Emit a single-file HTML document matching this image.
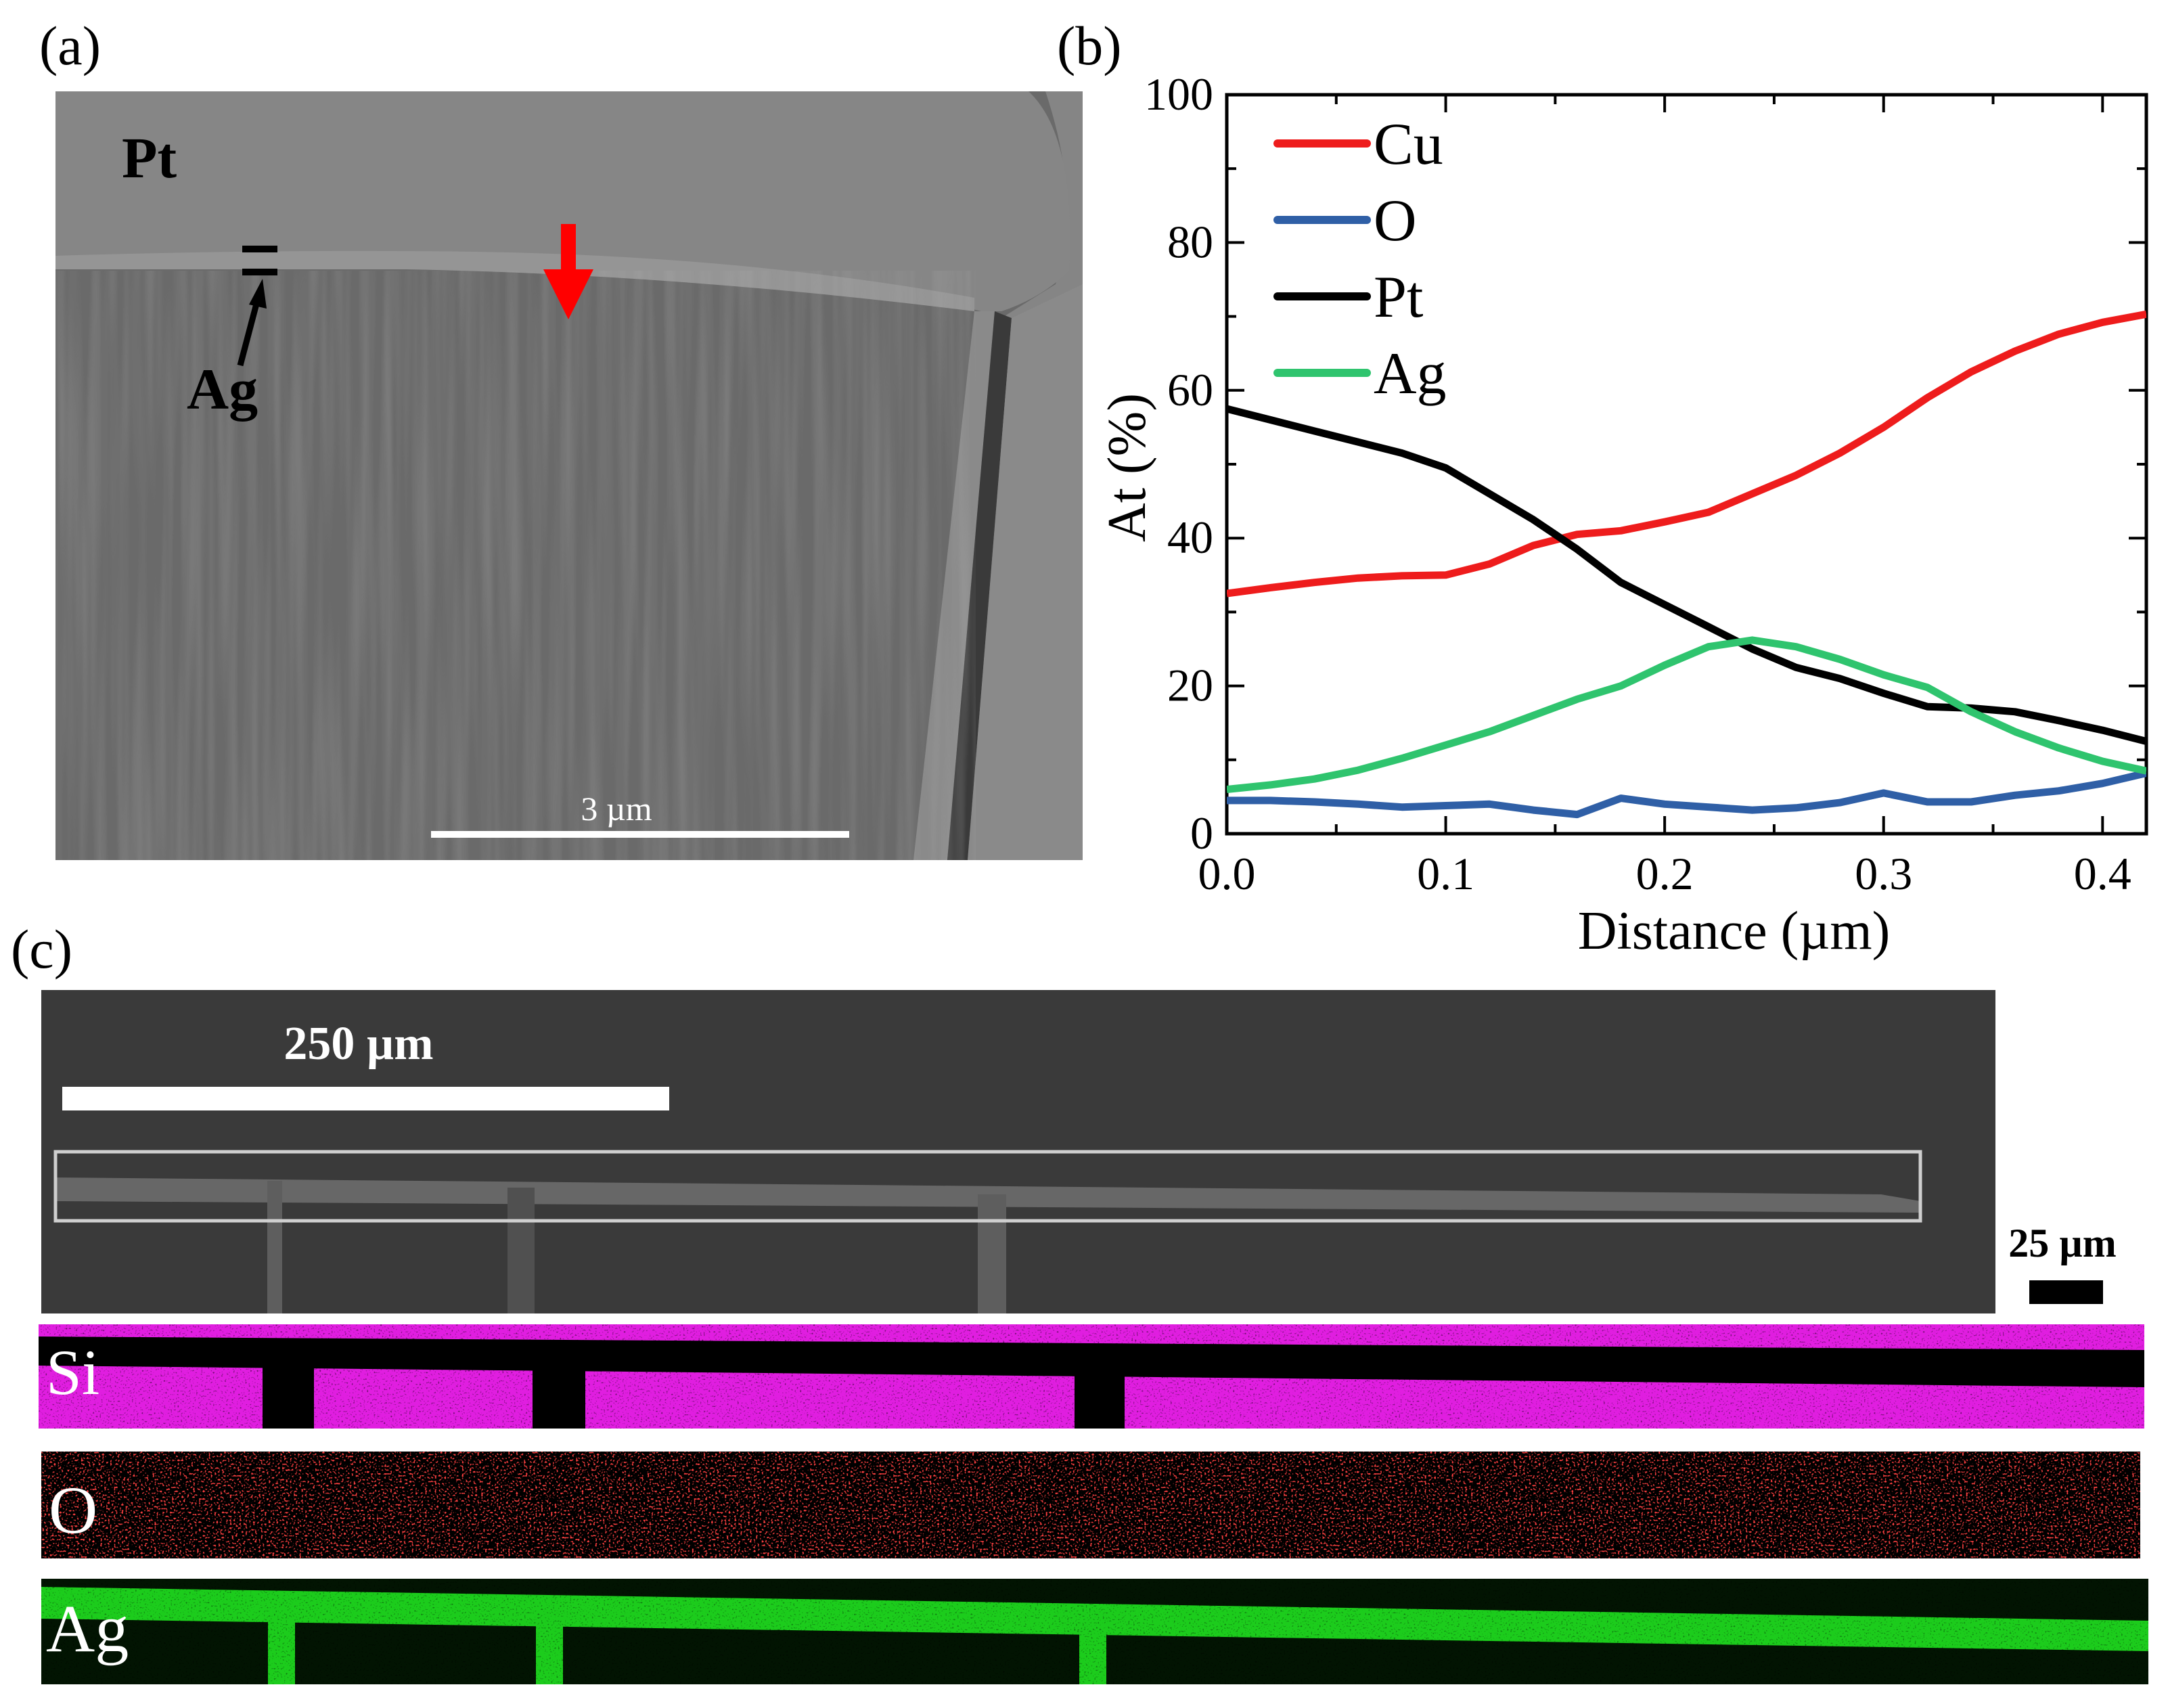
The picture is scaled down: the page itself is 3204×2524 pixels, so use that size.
<!DOCTYPE html>
<html><head><meta charset="utf-8"><style>
html,body{margin:0;padding:0;background:#fff;}
svg{display:block;}
text{font-family:"Liberation Serif",serif;}
</style></head><body>
<svg id="fig" width="3204" height="2524" viewBox="0 0 3204 2524" xmlns="http://www.w3.org/2000/svg">
<defs>
<filter id="noise" x="0" y="0" width="100%" height="100%"><feTurbulence type="fractalNoise" baseFrequency="0.9" numOctaves="1" seed="3"/><feColorMatrix type="matrix" values="0 0 0 0 0.5  0 0 0 0 0.5  0 0 0 0 0.5  0 0 0 1.2 -0.3"/></filter>
<filter id="streak" x="0" y="0" width="100%" height="100%"><feTurbulence type="fractalNoise" baseFrequency="0.06 0.002" numOctaves="2" seed="7"/><feColorMatrix type="matrix" values="0 0 0 0 0.45  0 0 0 0 0.45  0 0 0 0 0.45  0 0 0 0.9 -0.3"/></filter>
<filter id="redspeck" x="0" y="0" width="100%" height="100%"><feTurbulence type="fractalNoise" baseFrequency="0.35" numOctaves="1" seed="11"/><feColorMatrix type="matrix" values="0 0 0 0 0.95  0 0 0 0 0.05  0 0 0 0 0.05  7 0 0 0 -3.9"/></filter>
<filter id="darkspeck" x="0" y="0" width="100%" height="100%"><feTurbulence type="fractalNoise" baseFrequency="0.4" numOctaves="1" seed="5"/><feColorMatrix type="matrix" values="0 0 0 0 0  0 0 0 0 0  0 0 0 0 0  6 0 0 0 -3.6"/></filter>
<clipPath id="clipA"><rect x="82" y="135" width="1518" height="1136"/></clipPath>
<clipPath id="clipPlot"><rect x="1813" y="140" width="1359" height="1092"/></clipPath>
</defs>

<!-- Panel a -->
<text x="58" y="95" font-size="82">(a)</text>
<g clip-path="url(#clipA)">
  <rect x="82" y="135" width="1518" height="1136" fill="#6a6a6a"/>
  <path d="M82 135 H1545 Q1600 300 1560 420 L1480 470 L1470 1271 H1600 V135 Z" fill="#858585"/>
  <path d="M82 135 H1520 Q1590 200 1580 400 Q1540 440 1480 460 L1450 460 Q1300 420 1000 400 L82 395 Z" fill="#868686"/>
  <path d="M82 378 Q400 368 700 372 Q1100 378 1440 440 L1440 460 Q1000 405 600 398 L82 398 Z" fill="#959595"/>
  <path d="M1440 460 L1470 460 L1400 1271 L1350 1271 Z" fill="#8a8a8a"/>
  <path d="M1470 460 L1495 470 L1430 1271 L1400 1271 Z" fill="#3a3a3a"/>
  <path d="M1495 470 L1600 420 V1271 H1430 Z" fill="#8a8a8a"/>
  <rect x="82" y="400" width="1360" height="871" filter="url(#streak)" opacity="0.5"/>
</g>
<text x="180" y="262" font-size="86" font-weight="bold">Pt</text>
<rect x="358" y="363" width="52" height="10" fill="#000"/>
<rect x="358" y="397" width="52" height="10" fill="#000"/>
<line x1="355" y1="540" x2="384" y2="430" stroke="#000" stroke-width="9"/>
<polygon points="388,412 368,450 394,456" fill="#000"/>
<text x="276" y="604" font-size="86" font-weight="bold">Ag</text>
<rect x="829" y="331" width="22" height="70" fill="#f00"/>
<polygon points="803,398 877,398 840,472" fill="#f00"/>
<rect x="637" y="1228" width="618" height="10" fill="#fff"/>
<text x="911" y="1212" font-size="50" fill="#fff" text-anchor="middle">3 µm</text>

<!-- Panel b -->
<text x="1562" y="95" font-size="82">(b)</text>
<g id="chart"></g>

<!-- Panel c -->
<text x="16" y="1430" font-size="82">(c)</text>
<g>
  <rect x="61" y="1463" width="2888" height="478" fill="#3a3a3a"/>
  <polygon points="82,1740 2780,1765 2838,1775 2838,1792 82,1775" fill="#7a7a7a" opacity="0.7"/>
  <rect x="395" y="1745" width="22" height="196" fill="#5e5e5e"/>
  <rect x="750" y="1755" width="40" height="186" fill="#505050"/>
  <rect x="1445" y="1765" width="42" height="176" fill="#5e5e5e"/>
  <rect x="82" y="1702" width="2756" height="102" fill="none" stroke="#cfcfcf" stroke-width="5"/>
  <rect x="92" y="1606" width="897" height="35" fill="#fff"/>
  <text x="530" y="1565" font-size="70" font-weight="bold" fill="#fff" text-anchor="middle">250 µm</text>
</g>
<text x="3048" y="1857" font-size="60" font-weight="bold" text-anchor="middle">25 µm</text>
<rect x="2999" y="1892" width="109" height="35" fill="#000"/>

<g>
  <rect x="57" y="1957" width="3112" height="154" fill="#e01ee0"/>
  <rect x="57" y="1957" width="3112" height="154" filter="url(#darkspeck)" opacity="0.5"/>
  <polygon points="57,1975 3169,1995 3169,2050 57,2018" fill="#000"/>
  <rect x="388" y="2010" width="76" height="101" fill="#000"/>
  <rect x="787" y="2012" width="78" height="99" fill="#000"/>
  <rect x="1588" y="2020" width="74" height="91" fill="#000"/>
</g>
<text x="68" y="2060" font-size="95" fill="#fff">Si</text>
<g>
  <rect x="61" y="2145" width="3102" height="158" fill="#000"/>
  <rect x="61" y="2145" width="3102" height="158" filter="url(#redspeck)"/>
</g>
<text x="72" y="2265" font-size="100" fill="#fff">O</text>
<g>
  <rect x="61" y="2333" width="3114" height="156" fill="#021402"/>
  <polygon points="61,2345 3175,2395 3175,2440 61,2392" fill="#1ccc1c"/>
  <rect x="396" y="2380" width="40" height="109" fill="#1ccc1c"/>
  <rect x="792" y="2380" width="40" height="109" fill="#1ccc1c"/>
  <rect x="1595" y="2395" width="40" height="94" fill="#1ccc1c"/>
  <rect x="61" y="2333" width="3114" height="156" filter="url(#darkspeck)" opacity="0.4"/>
</g>
<text x="68" y="2440" font-size="100" fill="#fff">Ag</text>
</svg>
<script>
const xValues=[0,0.02,0.04,0.06,0.08,0.10,0.12,0.14,0.16,0.18,0.20,0.22,0.24,0.26,0.28,0.30,0.32,0.34,0.36,0.38,0.40,0.42];
const cuValues=[32.5,33.3,34.0,34.6,34.9,35.0,36.5,39.0,40.5,41.0,42.2,43.5,46.0,48.5,51.5,55.0,59.0,62.5,65.3,67.6,69.2,70.3];
const oValues=[4.5,4.5,4.3,4.0,3.6,3.8,4.0,3.2,2.6,4.8,4.0,3.6,3.2,3.5,4.2,5.5,4.3,4.3,5.2,5.8,6.8,8.2];
const ptValues=[57.5,56.0,54.5,53.0,51.5,49.5,46.0,42.5,38.5,34.0,31.0,28.0,25.0,22.5,21.0,19.0,17.2,17.0,16.5,15.3,14.0,12.5];
const agValues=[6.0,6.6,7.4,8.6,10.2,12.0,13.8,16.0,18.2,20.0,22.8,25.3,26.2,25.3,23.6,21.5,19.8,16.5,13.8,11.6,9.8,8.5];
const xTicks=[0,0.1,0.2,0.3,0.4];
const xTickLabels=["0.0","0.1","0.2","0.3","0.4"];
const yTicks=[0,20,40,60,80,100];
const yTickLabels=["0","20","40","60","80","100"];
const seriesNames=["Cu","O","Pt","Ag"];
const seriesColors=["#ee1c1c","#2f5fa6","#000000","#2fc46e"];

const NS="http://www.w3.org/2000/svg";
const L=1813,R=3172,T=140,B=1232,XMAX=0.42;
const sx=v=>L+v/XMAX*(R-L);
const sy=v=>B-v/100*(B-T);
const g=document.getElementById('chart');
function mk(tag,attrs){const e=document.createElementNS(NS,tag);for(const k in attrs)e.setAttribute(k,attrs[k]);g.appendChild(e);return e;}
for(let v=0.05;v<XMAX;v+=0.1){const x=sx(v);const t1=mk('line',{x1:x,x2:x,y1:B,y2:B-14,stroke:'#000','stroke-width':4});const t2=mk('line',{x1:x,x2:x,y1:T,y2:T+14,stroke:'#000','stroke-width':4});}
for(let v=10;v<100;v+=20){const y=sy(v);const t1=mk('line',{x1:L,x2:L+14,y1:y,y2:y,stroke:'#000','stroke-width':4});const t2=mk('line',{x1:R,x2:R-14,y1:y,y2:y,stroke:'#000','stroke-width':4});}
xTicks.forEach((v,i)=>{const x=sx(v);
 const t=mk('line',{x1:x,x2:x,y1:B,y2:B-26,stroke:'#000','stroke-width':4});
 const t2=mk('line',{x1:x,x2:x,y1:T,y2:T+26,stroke:'#000','stroke-width':4});
 const lb=mk('text',{x:x,y:B+82,'font-size':68,'text-anchor':'middle'});lb.textContent=xTickLabels[i];});
yTicks.forEach((v,i)=>{const y=sy(v);
 const t=mk('line',{x1:L,x2:L+26,y1:y,y2:y,stroke:'#000','stroke-width':4});
 const t2=mk('line',{x1:R,x2:R-26,y1:y,y2:y,stroke:'#000','stroke-width':4});
 const lb=mk('text',{x:L-20,y:y+22,'font-size':68,'text-anchor':'end'});lb.textContent=yTickLabels[i];});
const frame=mk('rect',{x:L,y:T,width:R-L,height:B-T,fill:'none',stroke:'#000','stroke-width':5});


const xt=mk('text',{x:(L+R)/2+70,y:B+170,'font-size':80,'text-anchor':'middle'});xt.textContent='Distance (µm)';


const yt=mk('text',{x:0,y:0,'font-size':80,'text-anchor':'middle',transform:`translate(1692,${(T+B)/2+5}) rotate(-90)`});yt.textContent='At (%)';


const allSeries=[cuValues,oValues,ptValues,agValues];
allSeries.forEach((vals,si)=>{
 const d=vals.map((v,i)=>(i?'L':'M')+sx(xValues[i]).toFixed(1)+' '+sy(v).toFixed(1)).join(' ');
 const p=mk('path',{d:d,fill:'none',stroke:seriesColors[si],'stroke-width':11,'stroke-linejoin':'round','clip-path':'url(#clipPlot)'});
 
 
 const ly=212+si*113;
 const ll=mk('line',{x1:1888,x2:2020,y1:ly,y2:ly,stroke:seriesColors[si],'stroke-width':12,'stroke-linecap':'round'});
 
 
 const lt=mk('text',{x:2030,y:ly+30,'font-size':88});lt.textContent=seriesNames[si];
 
 
});
</script>
</body></html>
